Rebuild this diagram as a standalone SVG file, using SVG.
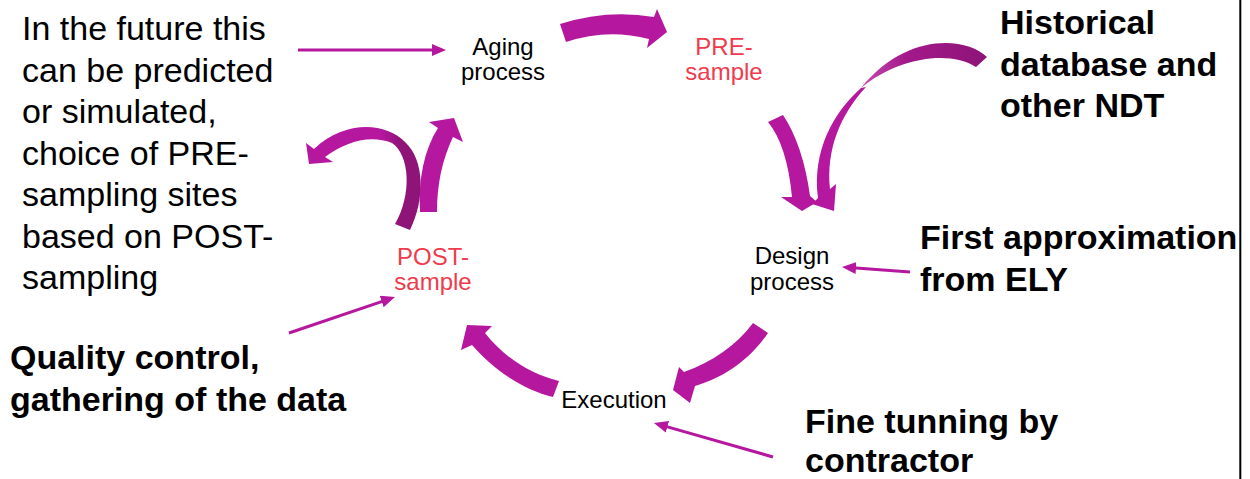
<svg xmlns="http://www.w3.org/2000/svg" width="1250" height="479" viewBox="0 0 1250 479">
  <defs>
    <style>
      .big{font-family:"Liberation Sans",Arial,sans-serif;font-size:34px;fill:#000}
      .bold{font-weight:bold}
      .lbl{font-family:"Liberation Sans",Arial,sans-serif;font-size:24px;fill:#000;text-anchor:middle}
      .red{fill:#ef3b4c}
      .band{fill:#b5179e}
      .thin{stroke:#b5179e;stroke-width:3;fill:none;marker-end:url(#tip)}
    </style>
    <marker id="tip" markerUnits="userSpaceOnUse" markerWidth="14" markerHeight="12" refX="10" refY="6" orient="auto">
      <path d="M0,0 L14,6 L0,12 Z" fill="#b5179e"/>
    </marker>
    <linearGradient id="tailShade" gradientUnits="userSpaceOnUse" x1="862" y1="0" x2="985" y2="0">
      <stop offset="0" stop-color="#c64bb0"/>
      <stop offset="0.35" stop-color="#a3198a"/>
      <stop offset="1" stop-color="#8e1478"/>
    </linearGradient>
    <linearGradient id="loopShade" gradientUnits="userSpaceOnUse" x1="382" y1="0" x2="400" y2="0">
      <stop offset="0" stop-color="#b5179e"/>
      <stop offset="1" stop-color="#8e1478"/>
    </linearGradient>
  </defs>
  <rect width="1250" height="479" fill="#fff"/>

  <!-- cycle stages -->
  <g id="aging">
    <text class="lbl" x="503" y="55">Aging</text>
    <text class="lbl" x="503" y="80">process</text>
  </g>
  <g id="pre-sample">
    <text class="lbl red" x="724" y="55">PRE-</text>
    <text class="lbl red" x="724" y="80">sample</text>
  </g>
  <g id="design">
    <text class="lbl" x="792" y="264">Design</text>
    <text class="lbl" x="792" y="290">process</text>
  </g>
  <g id="execution">
    <text class="lbl" x="614" y="408">Execution</text>
  </g>
  <g id="post-sample">
    <text class="lbl red" x="433" y="265">POST-</text>
    <text class="lbl red" x="433" y="290">sample</text>
  </g>

  <!-- annotations -->
  <g id="note-future">
    <text class="big" x="22" y="40">In the future this</text>
    <text class="big" x="22" y="81.5">can be predicted</text>
    <text class="big" x="22" y="123">or simulated,</text>
    <text class="big" x="22" y="164.5">choice of PRE-</text>
    <text class="big" x="22" y="206">sampling sites</text>
    <text class="big" x="22" y="247.5">based on POST-</text>
    <text class="big" x="22" y="289">sampling</text>
  </g>
  <g id="note-historical">
    <text class="big bold" x="1000" y="34">Historical</text>
    <text class="big bold" x="1000" y="75.5">database and</text>
    <text class="big bold" x="1000" y="117">other NDT</text>
  </g>
  <g id="note-ely">
    <text class="big bold" x="920" y="249">First approximation</text>
    <text class="big bold" x="920" y="290.5">from ELY</text>
  </g>
  <g id="note-quality">
    <text class="big bold" x="10" y="369">Quality control,</text>
    <text class="big bold" x="10" y="411">gathering of the data</text>
  </g>
  <g id="note-contractor">
    <text class="big bold" x="805" y="433">Fine tunning by</text>
    <text class="big bold" x="805" y="472">contractor</text>
  </g>

  <!-- connectors -->
  <g id="connectors">
    <!-- thick block arrows of the cycle -->
    <path class="band" d="M560,24 Q607,9 654,17 L657,9 L667,32 L647,48 L649,39 Q607,28 566,42 Z"/>
    <path class="band" d="M768,122 L783,115 Q803,145 810,196 L817,202 L802,211 L781,197 L792,197 Q787,145 768,122 Z"/>
    <path fill="url(#tailShade)" d="M987,57 C965,36 905,33 861,88 C898,57 950,50 976,67 Z"/>
    <path class="band" d="M861,88 C834,112 812,150 818,198 L812,204 L834,211 L836,184 L830,189 C826,150 840,115 866,87 Z"/>
    <path class="band" d="M753,323 L768,333 C748,362 722,378 695,386 L690,403 L673,390 L679,367 L684,372 C712,362 737,345 753,323 Z"/>
    <path class="band" d="M559,381 C530,374 505,358 485,333 L492,326 L467,325 L461,350 L472,345 C497,373 525,390 553,397 Z"/>
    <path fill="url(#loopShade)" d="M325,157 C345,142 370,134 392,143 C410,155 412,195 395,224 L410,230 C425,200 425,160 405,142 C385,122 345,120 314,149 L306,143 L309,164 L333,162 Z"/>
    <path class="band" d="M420,212 C418,180 424,150 438,128 L429,122 L454,118 L463,142 L453,137 C442,160 437,185 437,212 Z"/>

    <!-- thin pointer arrows -->
    <line class="thin" x1="298" y1="50" x2="442" y2="50"/>
    <line class="thin" x1="910" y1="272" x2="846" y2="267.3"/>
    <line class="thin" x1="289" y1="333" x2="391.2" y2="298.3"/>
    <line class="thin" x1="773" y1="457" x2="657.8" y2="424.1"/>
  </g>

  <line x1="1240.3" y1="0" x2="1240.3" y2="479" stroke="#000" stroke-width="2"/>
</svg>
